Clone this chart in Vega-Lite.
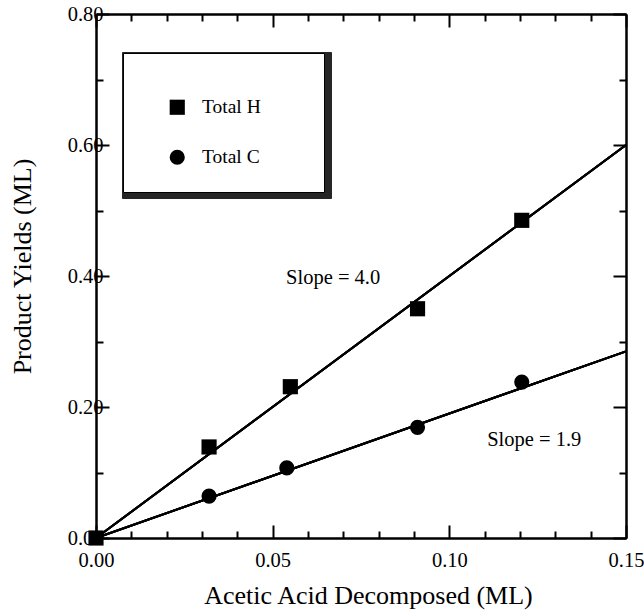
{
  "$schema": "https://vega.github.io/schema/vega-lite/v6.json",
  "width": 530,
  "height": 524,
  "autosize": "none",
  "padding": {"left": 96, "top": 14, "right": 18, "bottom": 74},
  "background": "white",
  "config": {
    "view": {"stroke": null},
    "font": "Liberation Serif",
    "axis": {
      "grid": false,
      "domainColor": "black",
      "domainWidth": 2,
      "tickColor": "black",
      "tickWidth": 2,
      "labelColor": "black",
      "labelFont": "Liberation Serif",
      "labelFontSize": 20.5,
      "labelFlush": false,
      "labelOverlap": false,
      "titleFont": "Liberation Serif",
      "titleFontSize": 26,
      "titleFontWeight": "normal",
      "titleColor": "black"
    }
  },
  "datasets": {
    "points": [
      {"series": "Total H", "x": 0.0, "y": 0.0},
      {"series": "Total H", "x": 0.032, "y": 0.139},
      {"series": "Total H", "x": 0.055, "y": 0.231},
      {"series": "Total H", "x": 0.091, "y": 0.350},
      {"series": "Total H", "x": 0.1205, "y": 0.485},
      {"series": "Total C", "x": 0.032, "y": 0.064},
      {"series": "Total C", "x": 0.054, "y": 0.107},
      {"series": "Total C", "x": 0.091, "y": 0.169},
      {"series": "Total C", "x": 0.1205, "y": 0.238}
    ],
    "fits": [
      {"fit": "H", "x": 0.0, "y": 0.0},
      {"fit": "H", "x": 0.15, "y": 0.6},
      {"fit": "C", "x": 0.0, "y": 0.0},
      {"fit": "C", "x": 0.15, "y": 0.285}
    ],
    "notes": [
      {"x": 0.0538, "y": 0.397, "label": "Slope = 4.0"},
      {"x": 0.1107, "y": 0.1496, "label": "Slope = 1.9"}
    ]
  },
  "layer": [
    {
      "data": {"name": "fits"},
      "mark": {"type": "line", "color": "black", "strokeWidth": 2},
      "encoding": {
        "x": {
          "field": "x", "type": "quantitative",
          "scale": {"domain": [0, 0.15], "nice": false},
          "axis": {
            "orient": "bottom",
            "values": [0, 0.05, 0.1, 0.15],
            "format": ".2f",
            "tickSize": -13,
            "labelPadding": 25,
            "title": "Acetic Acid Decomposed (ML)",
            "titlePadding": 12,
            "titleX": 272
          }
        },
        "y": {
          "field": "y", "type": "quantitative",
          "scale": {"domain": [0, 0.8], "nice": false},
          "axis": {
            "orient": "left",
            "values": [0, 0.2, 0.4, 0.6, 0.8],
            "format": ".2f",
            "tickSize": -13,
            "labelPadding": 6,
            "title": "Product Yields (ML)",
            "titlePadding": 32,
            "titleY": 252
          }
        },
        "strokeDash": {
          "field": "fit", "type": "nominal",
          "scale": {"domain": ["H", "C"], "range": [[1, 0], [1, 0]]},
          "legend": {
            "orient": "none",
            "legendX": 26,
            "legendY": 38,
            "title": " ",
            "titleFontSize": 12,
            "titlePadding": 9,
            "padding": 26.5,
            "strokeColor": "#262626",
            "fillColor": "#262626",
            "symbolOffset": 21,
            "labelOffset": 115,
            "rowPadding": 31,
            "labelFontSize": 19.5,
            "labelFont": "Liberation Serif",
            "labelColor": "#262626",
            "symbolSize": 230,
            "symbolStrokeColor": "#262626",
            "labelExpr": "''"
          }
        }
      }
    },
    {
      "data": {"name": "fits"},
      "mark": {"type": "line", "color": "black", "strokeWidth": 2},
      "encoding": {
        "x": {
          "field": "x", "type": "quantitative",
          "scale": {"domain": [0, 0.15], "nice": false},
          "axis": {
            "orient": "top",
            "values": [0, 0.05, 0.1, 0.15],
            "labels": false,
            "tickSize": -13,
            "title": null
          }
        },
        "y": {
          "field": "y", "type": "quantitative",
          "scale": {"domain": [0, 0.8], "nice": false},
          "axis": {
            "orient": "right",
            "values": [0, 0.2, 0.4, 0.6, 0.8],
            "labels": false,
            "tickSize": -13,
            "title": null
          }
        },
        "detail": {"field": "fit", "type": "nominal"}
      }
    },
    {
      "data": {"name": "fits"},
      "mark": {"type": "line", "color": "black", "strokeWidth": 2},
      "encoding": {
        "x": {
          "field": "x", "type": "quantitative",
          "scale": {"domain": [0, 0.15], "nice": false},
          "axis": {
            "orient": "bottom",
            "values": [0.01, 0.02, 0.03, 0.04, 0.06, 0.07, 0.08, 0.09, 0.11, 0.12, 0.13, 0.14],
            "labels": false,
            "tickSize": -7,
            "title": null
          }
        },
        "y": {
          "field": "y", "type": "quantitative",
          "scale": {"domain": [0, 0.8], "nice": false},
          "axis": {
            "orient": "left",
            "values": [0.1, 0.3, 0.5, 0.7],
            "labels": false,
            "tickSize": -7,
            "title": null
          }
        },
        "detail": {"field": "fit", "type": "nominal"}
      }
    },
    {
      "data": {"name": "fits"},
      "mark": {"type": "line", "color": "black", "strokeWidth": 2},
      "encoding": {
        "x": {
          "field": "x", "type": "quantitative",
          "scale": {"domain": [0, 0.15], "nice": false},
          "axis": {
            "orient": "top",
            "values": [0.01, 0.02, 0.03, 0.04, 0.06, 0.07, 0.08, 0.09, 0.11, 0.12, 0.13, 0.14],
            "labels": false,
            "tickSize": -7,
            "title": null
          }
        },
        "y": {
          "field": "y", "type": "quantitative",
          "scale": {"domain": [0, 0.8], "nice": false},
          "axis": {
            "orient": "right",
            "values": [0.1, 0.3, 0.5, 0.7],
            "labels": false,
            "tickSize": -7,
            "title": null
          }
        },
        "detail": {"field": "fit", "type": "nominal"}
      }
    },
    {
      "data": {"name": "points"},
      "mark": {"type": "point", "filled": true, "color": "black", "opacity": 1},
      "encoding": {
        "x": {"field": "x", "type": "quantitative", "scale": {"domain": [0, 0.15], "nice": false}, "axis": null},
        "y": {"field": "y", "type": "quantitative", "scale": {"domain": [0, 0.8], "nice": false}, "axis": null},
        "shape": {
          "field": "series", "type": "nominal",
          "scale": {"domain": ["Total H", "Total C"], "range": ["square", "circle"]},
          "legend": {
            "orient": "none",
            "legendX": 27,
            "legendY": 39,
            "title": " ",
            "titleFontSize": 12,
            "titlePadding": 9,
            "padding": 23.5,
            "strokeColor": "black",
            "fillColor": "white",
            "symbolOffset": 21,
            "labelOffset": 15,
            "rowPadding": 28,
            "labelFontSize": 19.5,
            "labelFont": "Liberation Serif",
            "labelColor": "black",
            "symbolSize": 230,
            "symbolFillColor": "black",
            "symbolStrokeColor": "black",
            "symbolOpacity": 1,
            "labelExpr": "datum.label + '\u00a0\u00a0\u00a0\u00a0\u00a0\u00a0\u00a0\u00a0\u200b'"
          }
        },
        "size": {"value": 230}
      }
    },
    {
      "data": {"name": "notes"},
      "mark": {"type": "text", "align": "left", "baseline": "middle", "fontSize": 20.5, "font": "Liberation Serif", "color": "black"},
      "encoding": {
        "x": {"field": "x", "type": "quantitative", "scale": {"domain": [0, 0.15], "nice": false}, "axis": null},
        "y": {"field": "y", "type": "quantitative", "scale": {"domain": [0, 0.8], "nice": false}, "axis": null},
        "text": {"field": "label"}
      }
    }
  ],
  "resolve": {"axis": {"x": "independent", "y": "independent"}}
}
